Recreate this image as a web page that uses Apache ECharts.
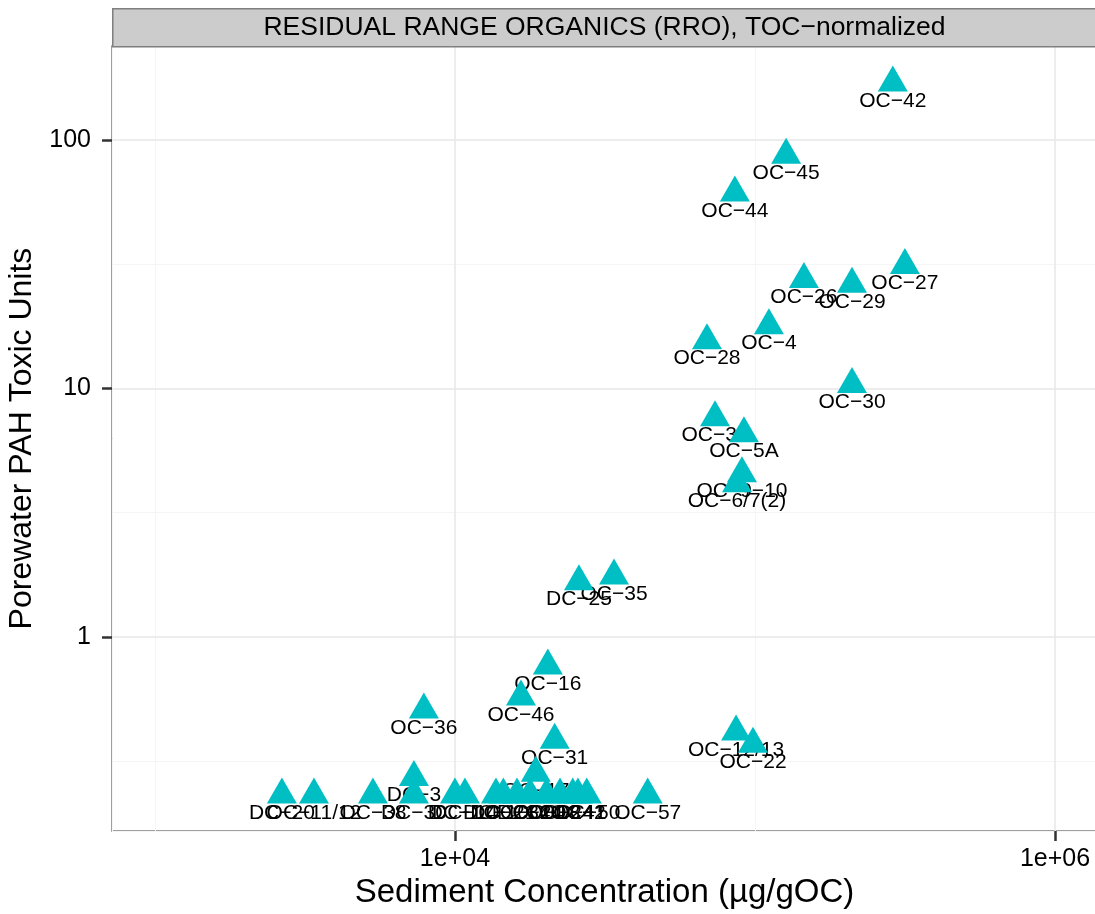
<!DOCTYPE html>
<html>
<head>
<meta charset="utf-8">
<script src="https://cdn.jsdelivr.net/npm/echarts@6/dist/echarts.min.js"></script>
<style>
html,body{margin:0;padding:0;background:#fff;}
#chart{width:1095px;height:914px;}
</style>
</head>
<body>
<div id="chart"></div>
<script>
// ---- data ----
const stationNames = [
  'OC-42','OC-45','OC-44','OC-27','OC-26','OC-29','OC-4','OC-28','OC-30',
  'OC-32','OC-5A','OC-9-10','OC-6/7(2)','OC-35','DC-25','OC-16','OC-46',
  'OC-36','OC-12/13','OC-22','OC-31','DC-3','OC-17',
  'DC-20','OC-11/12','OC-38','DC-30','DC-1','DC-14','DC-10','DC-21',
  'OC-34','DC-24','OC-18','OC-24','OC-41','OC-2','OC-50','OC-57'
];
const sedimentConc = [
  288000,127000,85700,316000,145600,210600,111300,69200,210600,
  73600,91900,90500,87100,33900,25900,20400,16600,
  7880,86500,98500,21500,7300,18600,
  2650,3390,5330,7300,10000,10800,13700,14500,
  16100,17800,20200,22400,24700,25700,27500,43900
];
const toxicUnits = [
  170,87,61.4,31.3,27.5,26.3,17.9,15.6,10.4,
  7.64,6.59,4.54,4.14,1.76,1.67,0.764,0.573,
  0.508,0.414,0.370,0.384,0.272,0.283,
  0.231,0.231,0.231,0.231,0.231,0.231,0.231,0.231,
  0.231,0.231,0.231,0.231,0.231,0.231,0.231,0.231
];
const xMajorTicks = [1e4, 1e6];
const xTickLabels = ['1e+04', '1e+06'];
const yMajorTicks = [1, 10, 100];
const yTickLabels = ['1', '10', '100'];
const panelTitle = 'RESIDUAL RANGE ORGANICS (RRO), TOC\u2212normalized';
const xTitle = 'Sediment Concentration (\u00b5g/gOC)';
const yTitle = 'Porewater PAH Toxic Units';

// ---- chart ----
const X_MIN = Math.pow(10, 2.857), X_MAX = Math.pow(10, 6.14);
const Y_MIN = Math.pow(10, -0.782), Y_MAX = Math.pow(10, 2.379);
const FONT = '"Liberation Sans", Arial, sans-serif';
const pts = stationNames.map((n, i) => ({ name: n, value: [sedimentConc[i], toxicUnits[i]] }));

const chart = echarts.init(document.getElementById('chart'), null, { renderer: 'canvas' });
chart.setOption({
  animation: false,
  backgroundColor: '#ffffff',
  textStyle: { fontFamily: FONT },
  grid: {
    left: 112, top: 46, right: -2, bottom: 83, containLabel: false, outerBoundsMode: 'none',
    show: true, backgroundColor: '#ffffff', borderColor: '#7f7f7f', borderWidth: 1.5
  },
  graphic: [
    { type: 'rect', left: 112, top: 8, z: 10,
      shape: { width: 1000, height: 38 },
      style: { fill: '#cccccc', stroke: '#7f7f7f', lineWidth: 1.5 } },
    { type: 'text', x: 604.5, y: 28, z: 11,
      style: { text: panelTitle, fill: '#000000', font: '26.5px ' + FONT, align: 'center', verticalAlign: 'middle' } }
  ],
  xAxis: [
    { // minor grid
      type: 'log', logBase: 10, min: X_MIN, max: X_MAX, position: 'top', z: 0,
      axisLine: { show: false }, axisTick: { show: false }, axisLabel: { show: false },
      splitLine: { show: true, lineStyle: { color: '#f5f5f5', width: 1 } }
    },
    { // major
      type: 'log', logBase: 10, min: X_MIN, max: X_MAX, position: 'bottom', z: 1,
      name: xTitle, nameLocation: 'middle', nameGap: 43,
      nameTextStyle: { fontSize: 33, color: '#000', fontFamily: FONT },
      axisLine: { show: false },
      axisTick: { show: true, length: 10, customValues: xMajorTicks, lineStyle: { color: '#333', width: 2.5 } },
      axisLabel: { show: true, customValues: xMajorTicks, fontSize: 25, color: '#000', margin: 16, fontFamily: FONT,
        formatter: v => { const i = xMajorTicks.findIndex(t => Math.abs(t - v) / t < 1e-6); return i >= 0 ? xTickLabels[i] : ''; } },
      splitLine: { show: true, lineStyle: { color: '#e8e8e8', width: 1.5 } }
    }
  ],
  yAxis: [
    { // minor grid
      type: 'log', logBase: Math.sqrt(10), min: Y_MIN, max: Y_MAX, position: 'right', z: 0,
      axisLine: { show: false }, axisTick: { show: false }, axisLabel: { show: false },
      splitLine: { show: true, lineStyle: { color: '#f5f5f5', width: 1 } }
    },
    { // major
      type: 'log', logBase: 10, min: Y_MIN, max: Y_MAX, position: 'left', z: 1,
      name: yTitle, nameLocation: 'middle', nameGap: 62,
      nameTextStyle: { fontSize: 32, color: '#000', fontFamily: FONT },
      axisLine: { show: false },
      axisTick: { show: true, length: 10, customValues: yMajorTicks, lineStyle: { color: '#333', width: 2.5 } },
      axisLabel: { show: true, customValues: yMajorTicks, fontSize: 25, color: '#000', margin: 21, fontFamily: FONT,
        formatter: v => { const i = yMajorTicks.findIndex(t => Math.abs(t - v) / t < 1e-6); return i >= 0 ? yTickLabels[i] : ''; } },
      splitLine: { show: true, lineStyle: { color: '#e8e8e8', width: 1.5 } }
    }
  ],
  series: [
    { // labels (drawn beneath the points)
      type: 'scatter', xAxisIndex: 1, yAxisIndex: 1, z: 3,
      data: pts, symbol: 'circle', symbolSize: 2,
      itemStyle: { color: 'rgba(255,255,255,0)' },
      label: { show: true, position: 'inside', offset: [0, 18], formatter: p => p.name.replace(/-/g, '\u2212'),
        fontSize: 21, color: '#000000', textBorderWidth: 0, textBorderColor: 'transparent', opacity: 1, fontFamily: FONT },
      emphasis: { disabled: true }
    },
    { // points
      type: 'scatter', xAxisIndex: 1, yAxisIndex: 1, z: 4,
      data: pts, symbol: 'triangle', symbolSize: [30, 26], symbolOffset: [0, -4.3],
      itemStyle: { color: '#00bfc4', opacity: 1 },
      emphasis: { disabled: true }
    }
  ]
});
</script>
</body>
</html>
